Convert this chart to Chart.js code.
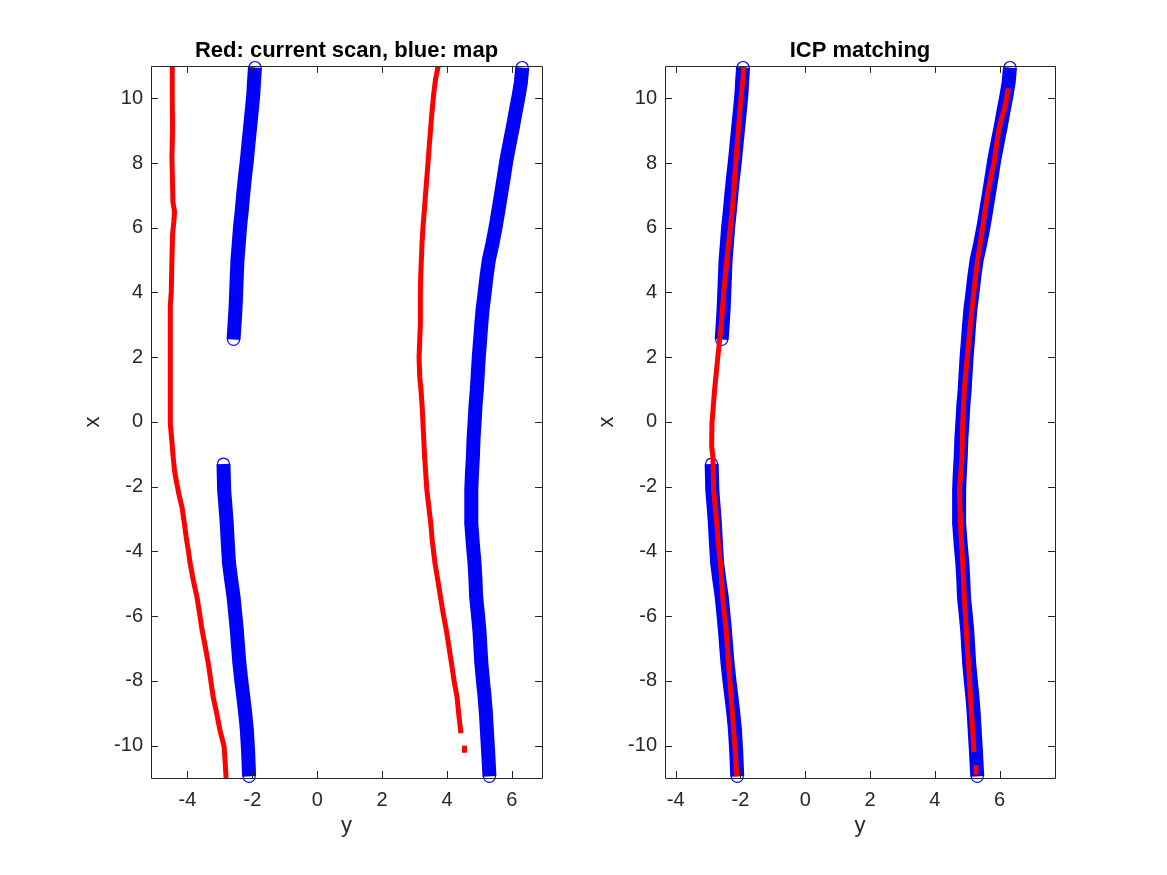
<!DOCTYPE html>
<html>
<head>
<meta charset="utf-8">
<title>Red: current scan, blue: map / ICP matching</title>
<script src="https://cdn.jsdelivr.net/npm/chart.js@4.4.1/dist/chart.umd.min.js"></script>
<style>
  html, body { margin: 0; padding: 0; background: #fff; }
  #fig { position: relative; width: 1167px; height: 875px; overflow: hidden; }
  #fig canvas { position: absolute; top: 0; }
</style>
</head>
<body>
<div id="fig">
  <canvas id="scanChart" width="584" height="875" style="left:0"></canvas>
  <canvas id="icpChart" width="583" height="875" style="left:584px"></canvas>
</div>
<script>
// points are [y, x] as the axes are labelled: y runs across, x runs up

// current scan (red), before matching
const scanLeft = [
  [-4.47, 11.0], [-4.47, 10.0], [-4.46, 9.0], [-4.48, 8.2], [-4.46, 7.3], [-4.45, 6.8],
  [-4.40, 6.5], [-4.42, 6.2], [-4.46, 5.8], [-4.48, 5.0], [-4.50, 4.0], [-4.53, 3.6],
  [-4.53, 2.0], [-4.53, 0.5], [-4.53, -0.05], [-4.48, -0.6], [-4.45, -1.0], [-4.40, -1.5],
  [-4.33, -1.9], [-4.25, -2.3], [-4.17, -2.63], [-4.10, -3.1], [-4.04, -3.56], [-3.97, -4.0],
  [-3.92, -4.36], [-3.82, -4.9], [-3.71, -5.4], [-3.63, -5.9], [-3.55, -6.43], [-3.45, -6.95],
  [-3.36, -7.45], [-3.28, -8.0], [-3.21, -8.49], [-3.10, -9.0], [-3.00, -9.52], [-2.87, -10.03],
  [-2.84, -10.5], [-2.81, -11.0]
];
const scanRight = [
  [3.73, 11.0], [3.65, 10.6], [3.59, 10.13], [3.54, 9.6], [3.50, 9.1], [3.46, 8.6],
  [3.42, 8.07], [3.38, 7.55], [3.34, 7.05], [3.30, 6.5], [3.26, 6.02], [3.23, 5.5],
  [3.21, 5.0], [3.19, 4.5], [3.18, 3.97], [3.18, 3.03], [3.14, 2.0], [3.16, 1.4],
  [3.20, 0.98], [3.24, 0.4], [3.26, -0.04], [3.31, -1.07], [3.38, -2.1], [3.50, -3.13],
  [3.55, -3.7], [3.63, -4.36], [3.72, -4.9], [3.80, -5.4], [3.88, -5.9], [3.98, -6.43],
  [4.06, -6.95], [4.14, -7.45], [4.22, -8.0], [4.31, -8.49], [4.36, -9.0], [4.42, -9.52],
  [4.43, -9.62]
];
const scanRightTail = [[4.54, -10.0], [4.54, -10.22]];

// map (blue), the same in both plots
const mapLeftUpper = [
  [-1.92, 10.95], [-1.95, 10.5], [-1.97, 10.13], [-2.02, 9.6], [-2.07, 9.1], [-2.12, 8.6],
  [-2.17, 8.07], [-2.23, 7.55], [-2.28, 7.05], [-2.33, 6.5], [-2.38, 6.02], [-2.42, 5.5],
  [-2.46, 5.0], [-2.48, 4.5], [-2.50, 3.97], [-2.52, 3.5], [-2.55, 3.0], [-2.58, 2.55]
];
const mapLeftLower = [
  [-2.89, -1.3], [-2.88, -1.7], [-2.87, -2.1], [-2.83, -2.6], [-2.79, -3.13], [-2.76, -3.7],
  [-2.72, -4.36], [-2.65, -4.9], [-2.58, -5.4], [-2.53, -5.9], [-2.48, -6.43], [-2.44, -6.95],
  [-2.40, -7.45], [-2.34, -8.0], [-2.28, -8.49], [-2.22, -9.0], [-2.17, -9.52], [-2.13, -10.2],
  [-2.10, -10.95]
];
const mapRight = [
  [6.32, 10.95], [6.28, 10.5], [6.22, 10.13], [6.12, 9.6], [6.03, 9.1], [5.93, 8.6],
  [5.83, 8.07], [5.75, 7.55], [5.67, 7.05], [5.58, 6.5], [5.50, 6.02], [5.40, 5.5],
  [5.29, 5.0], [5.22, 4.5], [5.16, 3.97], [5.10, 3.5], [5.06, 3.03], [5.02, 2.5],
  [4.98, 2.0], [4.95, 1.5], [4.92, 0.98], [4.88, 0.5], [4.85, -0.04], [4.82, -0.5],
  [4.80, -1.07], [4.77, -1.6], [4.75, -2.1], [4.75, -3.13], [4.80, -3.8], [4.85, -4.36],
  [4.88, -4.9], [4.90, -5.4], [4.95, -5.9], [5.00, -6.43], [5.03, -6.95], [5.06, -7.45],
  [5.11, -8.0], [5.16, -8.49], [5.20, -9.0], [5.23, -9.52], [5.27, -10.2], [5.31, -10.95]
];

// scan after ICP matching (red, right plot)
const icpLeft = [
  [-1.89, 11.0], [-1.93, 10.5], [-1.97, 10.13], [-2.02, 9.6], [-2.06, 9.1], [-2.10, 8.6],
  [-2.14, 8.07], [-2.18, 7.55], [-2.21, 7.05], [-2.26, 6.5], [-2.31, 6.02], [-2.37, 5.5],
  [-2.42, 5.0], [-2.47, 4.5], [-2.52, 3.97], [-2.59, 3.03], [-2.70, 2.0], [-2.80, 0.98],
  [-2.88, -0.04], [-2.89, -0.76], [-2.85, -1.07], [-2.83, -2.1], [-2.73, -3.13], [-2.68, -3.8],
  [-2.62, -4.36], [-2.55, -5.4], [-2.50, -5.9], [-2.44, -6.43], [-2.37, -7.45], [-2.29, -8.49],
  [-2.21, -9.52], [-2.16, -10.2], [-2.11, -10.95]
];
const icpRight = [
  [6.27, 10.3], [6.18, 9.8], [5.99, 9.1], [5.91, 8.6], [5.84, 8.07], [5.73, 7.55],
  [5.63, 7.05], [5.55, 6.5], [5.48, 6.02], [5.40, 5.5], [5.32, 5.0], [5.26, 4.5],
  [5.20, 3.97], [5.10, 3.03], [5.00, 2.0], [4.91, 0.98], [4.86, -0.04], [4.84, -1.07],
  [4.76, -2.1], [4.79, -3.13], [4.86, -4.36], [4.91, -5.4], [4.97, -6.43], [5.04, -7.45],
  [5.10, -8.49], [5.17, -9.52], [5.21, -10.2]
];
const icpRightTail = [[5.27, -10.6], [5.27, -10.9]];

// axes
const yTicksLeft = [-4, -2, 0, 2, 4, 6];
const yTicksRight = [-4, -2, 0, 2, 4, 6];
const xTicks = [-10, -8, -6, -4, -2, 0, 2, 4, 6, 8, 10];

const FONT = '"Liberation Sans", Arial, Helvetica, sans-serif';
const AXIS = '#262626';
const RED = '#ff0000';
const BLUE = '#0000ff';

function toXY(points) {
  return points.map(p => ({ x: p[0], y: p[1] }));
}

// a tiny tension keeps Chart.js off its x-grouping fast path, which breaks near-vertical lines
function scanSet(points) {
  return {
    data: toXY(points),
    showLine: true,
    borderColor: RED,
    borderWidth: 5,
    borderCapStyle: 'butt',
    borderJoinStyle: 'round',
    pointRadius: 0,
    tension: 0.001,
    order: 0
  };
}

function mapSet(points) {
  return {
    data: toXY(points),
    showLine: true,
    borderColor: BLUE,
    borderWidth: 14,
    borderCapStyle: 'butt',
    borderJoinStyle: 'round',
    pointStyle: 'circle',
    pointRadius: 6,
    pointBorderWidth: 1.2,
    pointBorderColor: BLUE,
    pointBackgroundColor: 'rgba(0,0,0,0)',
    tension: 0.001,
    clip: false,
    order: 1
  };
}

// MATLAB style box with inward ticks on all four sides
const boxTicks = {
  id: 'boxTicks',
  afterDatasetsDraw(chart) {
    const { ctx, chartArea: a, scales } = chart;
    const len = 7;
    ctx.save();
    ctx.strokeStyle = AXIS;
    ctx.lineWidth = 1;
    ctx.beginPath();
    ctx.rect(Math.round(a.left) + 0.5, Math.round(a.top) + 0.5,
      Math.round(a.right) - Math.round(a.left), Math.round(a.bottom) - Math.round(a.top));
    scales.x.ticks.forEach(t => {
      const px = Math.round(scales.x.getPixelForValue(t.value)) + 0.5;
      ctx.moveTo(px, a.bottom); ctx.lineTo(px, a.bottom - len);
      ctx.moveTo(px, a.top); ctx.lineTo(px, a.top + len);
    });
    scales.y.ticks.forEach(t => {
      const py = Math.round(scales.y.getPixelForValue(t.value)) + 0.5;
      ctx.moveTo(a.left, py); ctx.lineTo(a.left + len, py);
      ctx.moveTo(a.right, py); ctx.lineTo(a.right - len, py);
    });
    ctx.stroke();
    ctx.restore();
  }
};

function makeOptions(cfg) {
  return {
    responsive: false,
    animation: false,
    events: [],
    layout: { padding: { left: 0, right: cfg.rightPad, top: 0, bottom: 0 } },
    plugins: {
      legend: { display: false },
      tooltip: { enabled: false },
      title: {
        display: true,
        text: cfg.title,
        fullSize: false,
        color: '#000',
        font: { family: FONT, size: 22, weight: 'bold' },
        padding: { top: 38, bottom: 1.5 }
      }
    },
    scales: {
      x: {
        type: 'linear',
        position: 'bottom',
        min: cfg.min,
        max: cfg.max,
        afterBuildTicks: s => { s.ticks = cfg.ticks.map(v => ({ value: v })); },
        afterFit: s => { s.height = 97; },
        grid: { display: false, drawTicks: false },
        border: { display: false },
        ticks: {
          color: AXIS,
          font: { family: FONT, size: 20 },
          padding: 10,
          maxRotation: 0,
          autoSkip: false,
          callback: (v, i) => String(cfg.ticks[i])
        },
        title: {
          display: true,
          text: 'y',
          color: AXIS,
          font: { family: FONT, size: 22 },
          padding: { top: 0, bottom: 36 }
        }
      },
      y: {
        type: 'linear',
        position: 'left',
        min: -11,
        max: 11,
        afterBuildTicks: s => { s.ticks = xTicks.map(v => ({ value: v })); },
        afterFit: s => { s.width = cfg.axisWidth; },
        grid: { display: false, drawTicks: false },
        border: { display: false },
        ticks: {
          color: AXIS,
          font: { family: FONT, size: 20 },
          padding: 8,
          autoSkip: false,
          callback: (v, i) => String(xTicks[i])
        },
        title: {
          display: true,
          text: 'x',
          color: AXIS,
          font: { family: FONT, size: 22 },
          padding: { top: cfg.labelPad, bottom: 0 }
        }
      }
    }
  };
}

new Chart(document.getElementById('scanChart'), {
  type: 'scatter',
  data: {
    datasets: [
      scanSet(scanLeft), scanSet(scanRight), scanSet(scanRightTail),
      mapSet(mapLeftUpper), mapSet(mapLeftLower), mapSet(mapRight)
    ]
  },
  options: makeOptions({
    title: 'Red: current scan, blue: map',
    min: -5.125, max: 6.93, ticks: yTicksLeft,
    axisWidth: 151, labelPad: 80, rightPad: 42
  }),
  plugins: [boxTicks]
});

new Chart(document.getElementById('icpChart'), {
  type: 'scatter',
  data: {
    datasets: [
      scanSet(icpLeft), scanSet(icpRight), scanSet(icpRightTail),
      mapSet(mapLeftUpper), mapSet(mapLeftLower), mapSet(mapRight)
    ]
  },
  options: makeOptions({
    title: 'ICP matching',
    min: -4.33, max: 7.71, ticks: yTicksRight,
    axisWidth: 81, labelPad: 10, rightPad: 112
  }),
  plugins: [boxTicks]
});
</script>
</body>
</html>
